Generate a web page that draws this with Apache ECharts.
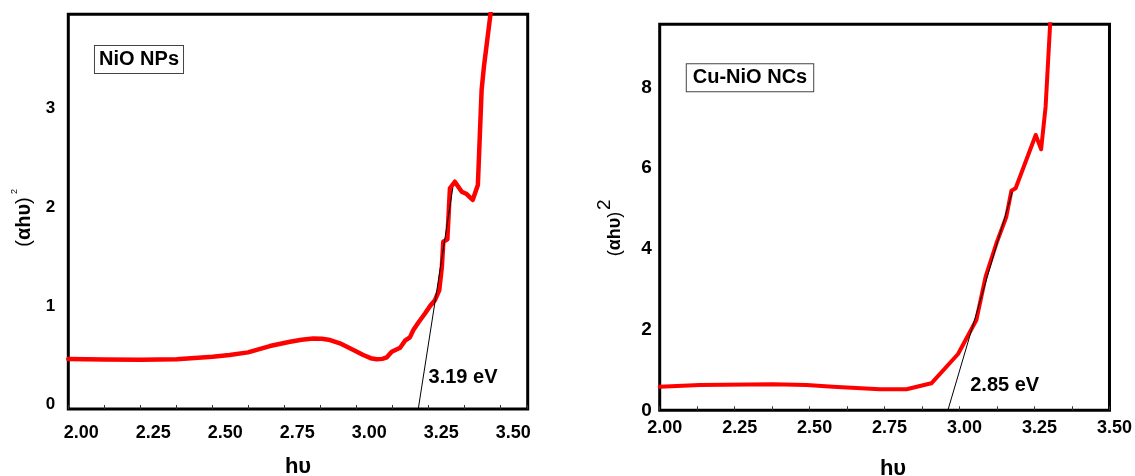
<!DOCTYPE html>
<html>
<head>
<meta charset="utf-8">
<script src="https://cdn.jsdelivr.net/npm/echarts@6/dist/echarts.min.js"></script>
<style>
html,body{margin:0;padding:0;background:#fff;}
#c{width:1135px;height:476px;}
</style>
</head>
<body>
<div id="c"></div>
<script>
// ---- data ----
const nioX = [2.000,2.126,2.251,2.376,2.501,2.560,2.624,2.660,2.700,2.770,2.810,2.850,2.880,2.909,2.943,2.990,3.024,3.050,3.071,3.090,3.106,3.123,3.152,3.169,3.186,3.198,3.215,3.239,3.256,3.273,3.288,3.297,3.302,3.316,3.325,3.342,3.354,3.366,3.383,3.404,3.422,3.435,3.443,3.470];
const nioY = [0.507,0.502,0.500,0.504,0.530,0.548,0.574,0.605,0.638,0.682,0.702,0.714,0.712,0.699,0.666,0.598,0.547,0.515,0.504,0.508,0.524,0.581,0.621,0.692,0.726,0.800,0.874,0.970,1.044,1.104,1.206,1.442,1.695,1.719,2.236,2.303,2.252,2.202,2.178,2.118,2.270,3.232,3.468,4.100];
const nioTangentX = [3.215, 3.335];
const nioTangentY = [0, 2.24];

const cuX = [2.000,2.134,2.378,2.490,2.578,2.734,2.823,2.906,2.995,3.056,3.087,3.123,3.156,3.173,3.187,3.254,3.272,3.287,3.305];
const cuY = [0.585,0.627,0.644,0.624,0.585,0.520,0.520,0.669,1.395,2.236,3.309,4.136,4.795,5.439,5.499,6.819,6.465,7.519,9.960];
const cuTangentX = [2.961, 3.176];
const cuTangentY = [0, 5.41];

const xTickLabels = ['2.00','2.25','2.50','2.75','3.00','3.25','3.50'];
const nioYTickLabels = ['0','1','2','3'];
const cuYTickLabels = ['0','2','4','6','8'];

const FONT = 'Liberation Sans, Arial, sans-serif';

function pairs(xs, ys){ return xs.map((x,i)=>[x, ys[i]]); }

const chart = echarts.init(document.getElementById('c'), null, {renderer:'canvas'});

function xAxisCfg(gi, max, pad, margin){
  return {
    gridIndex: gi, type:'value', min:2, max:max, interval:0.125,
    axisLine:{show:false},
    axisTick:{show:true, inside:true, length:4, lineStyle:{color:'#333', width:1}},
    splitLine:{show:false},
    axisLabel:{
      formatter: v => { const s = v.toFixed(2); return xTickLabels.indexOf(s) >= 0 && Math.abs(v*8 - Math.round(v*8))<1e-6 ? s : ''; },
      fontSize:18, fontWeight:'bold', color:'#000', fontFamily:FONT,
      margin:margin, padding:[0,0,0,pad]
    }
  };
}
function yAxisCfg(gi, max, interval, labels, size, margin, raise){
  const lbl = {
    formatter: v => { const s = String(Math.round(v*1000)/1000); return labels.indexOf(s) >= 0 ? s : ''; },
    fontSize:size, fontWeight:'bold', color:'#000', fontFamily:FONT,
    margin:margin
  };
  if (raise) { lbl.verticalAlign = 'bottom'; lbl.lineHeight = raise*2; }
  return {
    gridIndex: gi, type:'value', min:0, max:max, interval:interval,
    axisLine:{show:false}, axisTick:{show:false}, splitLine:{show:false},
    axisLabel: lbl
  };
}

function yTitle(x, y, size, supSize, supDx, supDy, supWeight){
  return {
    type:'group', x:x, y:y, rotation:Math.PI/2,
    children:[
      {type:'text', x:0, y:0, style:{
        text:'{n|(}{b|αhυ}{n|)}', align:'center', verticalAlign:'middle',
        fill:'#000', font: 'bold '+size+'px '+FONT,
        rich:{ n:{fontSize:size, fontWeight:'normal', fontFamily:FONT, fill:'#000'},
               b:{fontSize:size, fontWeight:'bold', fontFamily:FONT, fill:'#000'} }
      }},
      {type:'text', x:supDx, y:supDy, style:{
        text:'2', align:'left', verticalAlign:'middle', fill:'#000',
        font: supWeight+' '+supSize+'px '+FONT
      }}
    ]
  };
}

function boxText(x, y, text, pad){
  return {type:'text', x:x, y:y, z:10, style:{
    text:text, align:'center', verticalAlign:'middle', fill:'#000',
    font:'bold 20px '+FONT, borderColor:'#444', borderWidth:1, padding:pad, backgroundColor:'#fff'
  }};
}
function plainText(x, y, text, size){
  return {type:'text', x:x, y:y, z:10, style:{
    text:text, align:'center', verticalAlign:'middle', fill:'#000', font:'bold '+size+'px '+FONT
  }};
}

chart.setOption({
  animation:false,
  backgroundColor:'#fff',
  grid:[
    {left:68.3, top:14.3, width:459.4, height:394.7, show:true, borderColor:'#000', borderWidth:3, backgroundColor:'transparent'},
    {left:659.7, top:24.3, width:450.3, height:386, show:true, borderColor:'#000', borderWidth:3, backgroundColor:'transparent'}
  ],
  xAxis:[ xAxisCfg(0, 3.595, 26, 15), xAxisCfg(1, 3.5, 10, 9) ],
  yAxis:[ yAxisCfg(0, 4, 1, nioYTickLabels, 17, 13, 4.5), yAxisCfg(1, 9.56, 2, cuYTickLabels, 19, 8, 0) ],
  series:[
    {name:'NiO NPs', type:'line', xAxisIndex:0, yAxisIndex:0, data:pairs(nioX, nioY),
     showSymbol:false, symbol:'none', lineStyle:{color:'#ff0000', width:4.5, join:'round', cap:'round'}, clip:true, z:2},
    {name:'NiO tangent', type:'line', xAxisIndex:0, yAxisIndex:0, data:pairs(nioTangentX, nioTangentY),
     showSymbol:false, symbol:'none', lineStyle:{color:'#000', width:1}, z:3},
    {name:'Cu-NiO NCs', type:'line', xAxisIndex:1, yAxisIndex:1, data:pairs(cuX, cuY),
     showSymbol:false, symbol:'none', lineStyle:{color:'#ff0000', width:4, join:'round', cap:'round'}, clip:true, z:2},
    {name:'Cu-NiO tangent', type:'line', xAxisIndex:1, yAxisIndex:1, data:pairs(cuTangentX, cuTangentY),
     showSymbol:false, symbol:'none', lineStyle:{color:'#000', width:1}, z:3}
  ],
  graphic:[
    boxText(139, 59.5, 'NiO NPs', [4,4,3,4]),
    boxText(750, 77.8, 'Cu-NiO NCs', [4,6,3,6]),
    plainText(463, 377.7, '3.19 eV', 20),
    plainText(1004.7, 385, '2.85 eV', 20),
    plainText(298, 467, 'hυ', 22),
    plainText(893, 468.5, 'hυ', 22),
    yTitle(24, 222, 20, 9, 28, -9, 'normal'),
    yTitle(615, 234, 18, 19, 24, -10, 'normal')
  ]
});
</script>
</body>
</html>
